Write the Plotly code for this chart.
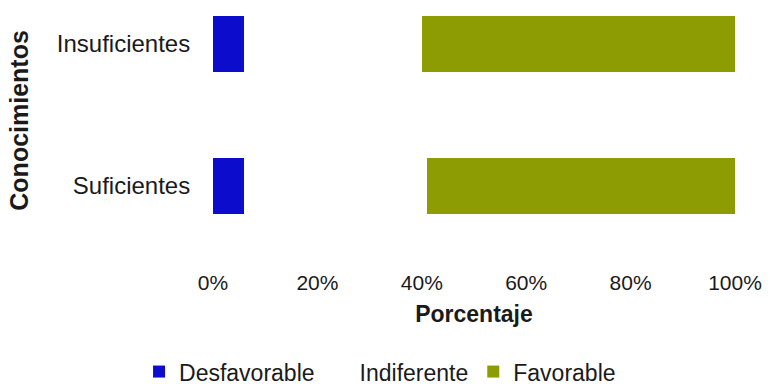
import plotly.graph_objects as go

categories = ["Suficientes", "Insuficientes"]
desfavorable = [6, 6]
indiferente = [35, 34]
favorable = [59, 60]
x_ticks = [0, 20, 40, 60, 80, 100]
x_tick_labels = ["0%", "20%", "40%", "60%", "80%", "100%"]

font_family = "Liberation Sans, Arial, sans-serif"
text_color = "#1a1a1a"

fig = go.Figure()
fig.add_trace(go.Bar(y=categories, x=desfavorable, name="Desfavorable", orientation="h",
                     marker=dict(color="#0c0ccc", line=dict(width=0)), width=0.4))
fig.add_trace(go.Bar(y=categories, x=indiferente, name="Indiferente", orientation="h",
                     marker=dict(color="#ffffff", line=dict(width=0)), width=0.4))
fig.add_trace(go.Bar(y=categories, x=favorable, name="Favorable", orientation="h",
                     marker=dict(color="#8c9c02", line=dict(width=0)), width=0.4))

fig.update_layout(
    barmode="stack",
    width=770, height=389,
    margin=dict(l=213, r=35, t=10, b=128, autoexpand=False),
    paper_bgcolor="white", plot_bgcolor="white",
    font=dict(family=font_family, color=text_color, size=21),
    xaxis=dict(range=[0, 100], tickvals=x_ticks, ticktext=x_tick_labels,
               showgrid=False, zeroline=False, showline=False, tickangle=0,
               automargin=False,
               ticks="outside", ticklen=3, tickcolor="white",
               tickfont=dict(size=21),
               title=dict(text="<b>Porcentaje</b>", font=dict(size=23), standoff=12)),
    yaxis=dict(range=[-0.528, 1.239], showgrid=False, zeroline=False, showline=False,
               automargin=False,
               ticks="outside", ticklen=17, tickcolor="white",
               tickfont=dict(size=24)),
    legend=dict(orientation="h", x=0.32, xanchor="center",
                y=-0.355, yanchor="top",
                font=dict(size=23), traceorder="normal", itemwidth=30),
    annotations=[dict(text="<b>Conocimientos</b>", xref="paper", yref="paper",
                      x=-0.3716, y=0.559, xanchor="center", yanchor="middle",
                      textangle=-90, showarrow=False, font=dict(size=25))],
    showlegend=True,
)

fig.write_html("out.html")
